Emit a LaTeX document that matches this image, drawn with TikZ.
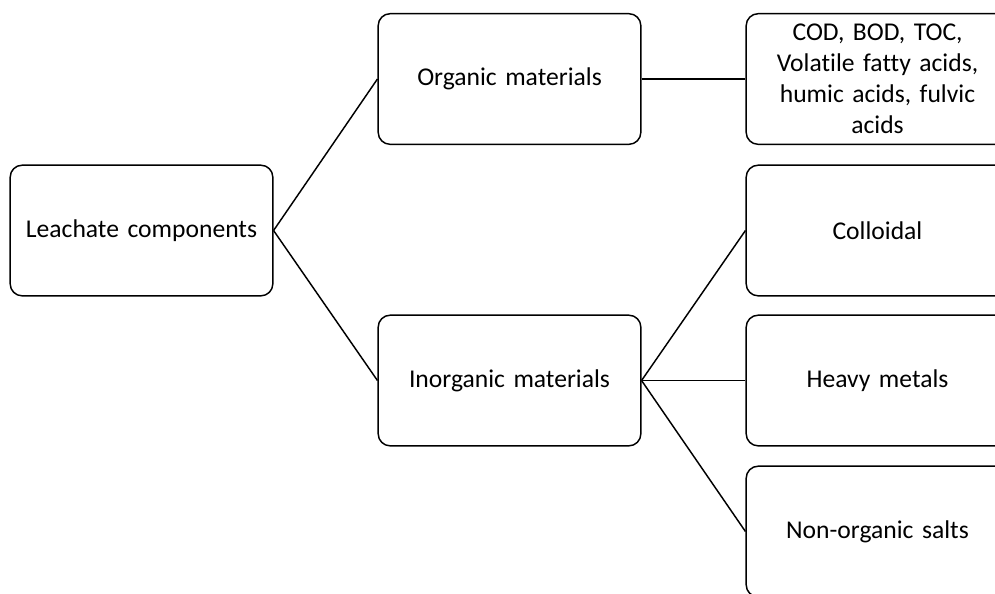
\documentclass[tikz,border=0pt]{standalone}
\usepackage{fontspec}
\setmainfont{Carlito}[Ligatures=NoCommon]
\begin{document}
\begin{tikzpicture}[x=0.75pt,y=-0.75pt,
  box/.style={draw=black,line width=1.1pt,rounded corners=9pt,minimum width=197pt,minimum height=98pt,inner sep=2pt,align=center,font=\fontsize{19.2}{23.3}\selectfont,text width=190pt},
  link/.style={draw=black,line width=1.1pt}]
\useasboundingbox (0,0) rectangle (995,593);
\clip (0,0) rectangle (995,593);
\node[box] (lc) at (141.5,230.5) {Leachate components};
\node[box] (om) at (509.5,79) {Organic materials};
\node[box] (im) at (509.5,380.5) {Inorganic materials};
\node[box] (cod) at (877.5,79) {COD, BOD, TOC,\\Volatile fatty acids,\\humic acids, fulvic\\acids};
\node[box] (col) at (877.5,230.5) {Colloidal};
\node[box] (hm) at (877.5,380.5) {Heavy metals};
\node[box] (nos) at (877.5,531.5) {Non-organic salts};
\draw[link] (lc.east) -- (om.west);
\draw[link] (lc.east) -- (im.west);
\draw[link] (om.east) -- (cod.west);
\draw[link] (im.east) -- (col.west);
\draw[link] (im.east) -- (hm.west);
\draw[link] (im.east) -- (nos.west);
\end{tikzpicture}
\end{document}
